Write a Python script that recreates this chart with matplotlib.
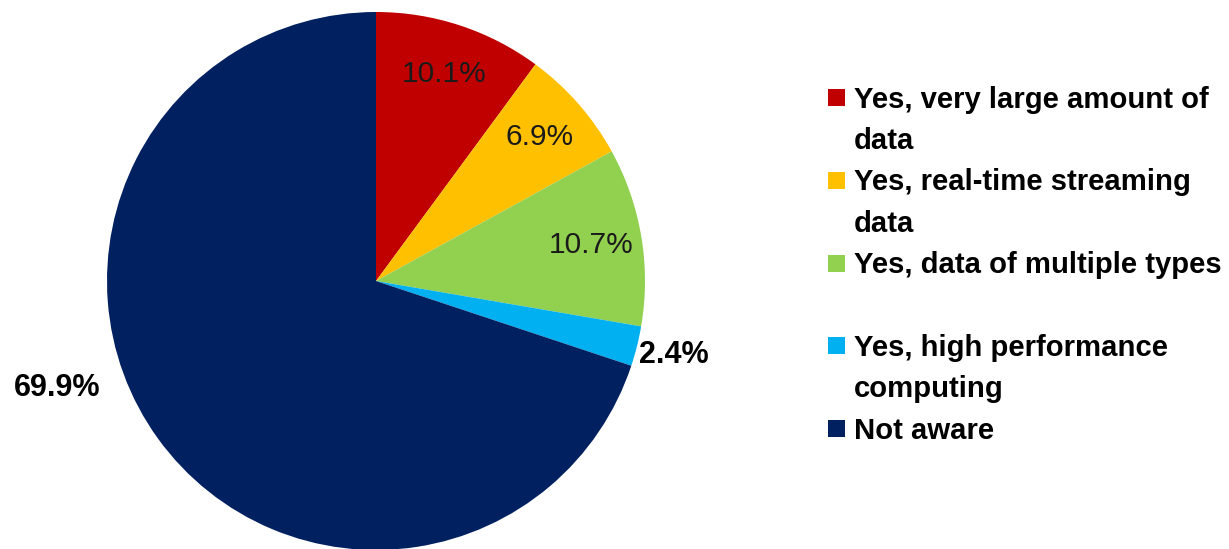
import matplotlib.pyplot as plt
from matplotlib.patches import Rectangle

plt.rcParams['font.family'] = ['Liberation Sans', 'DejaVu Sans']

labels = ['Yes, very large amount of\ndata',
          'Yes, real-time streaming\ndata',
          'Yes, data of multiple types\n',
          'Yes, high performance\ncomputing',
          'Not aware']
values = [10.1, 6.9, 10.7, 2.4, 69.9]
colors = ['#C00000', '#FFC000', '#92D050', '#00B0F0', '#002060']

W, H = 1229, 549
fig = plt.figure(figsize=(W / 100, H / 100), dpi=100)
# pie centre ~ (376, 281) px, radius ~269 px
ax = fig.add_axes([107 / W, -1 / H, 538 / W, 538 / H])
ax.axis('off')

wedges, texts, autotexts = ax.pie(values, colors=colors, startangle=90,
                                  counterclock=False, radius=1,
                                  autopct='%.1f%%', pctdistance=0.81,
                                  textprops={'fontsize': 21.5, 'color': '#1a1a1a'})
ax.set_xlim(-1, 1)
ax.set_ylim(-1, 1)
ax.set_aspect('equal')

# labels for the small and the big slice sit outside the pie
autotexts[3].set_position((1.106, -0.276))
autotexts[4].set_position((-1.186, -0.398))
for t in autotexts[3:]:
    t.set_fontweight('bold')
    t.set_fontsize(22)
    t.set_color('black')
for t in autotexts:
    t.set_clip_on(False)

# legend drawn by hand: square beside first line, evenly spaced lines
line_y = 97
pitch = 41.4
for lab, col in zip(labels, colors):
    fig.add_artist(Rectangle((828 / W, 1 - (line_y + 9) / H), 17 / W, 17 / H,
                             transform=fig.transFigure, facecolor=col,
                             edgecolor='none'))
    for line in lab.split('\n'):
        if line:
            fig.text(854 / W, 1 - (line_y + 10.5) / H, line, ha='left',
                     va='baseline', fontsize=21.1, fontweight='bold')
        line_y += pitch

fig.savefig('out.png', dpi=100)
